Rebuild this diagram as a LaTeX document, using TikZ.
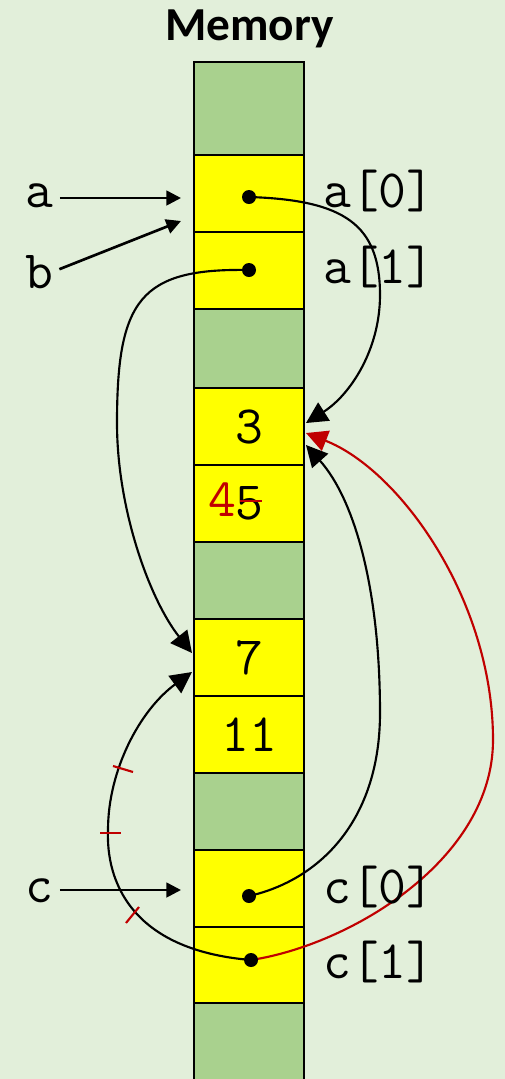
\documentclass[tikz,border=0pt]{standalone}
\usepackage{fontspec}
\usetikzlibrary{arrows.meta,calc}
\newfontfamily\titlef{Carlito}
\newcommand\monof{\ttfamily}
\definecolor{bgc}{HTML}{E2EFDA}
\definecolor{memg}{HTML}{A9D18E}
\definecolor{memy}{HTML}{FFFF00}
\definecolor{redc}{HTML}{C00000}
\pgfdeclarelayer{bglayer}
\pgfdeclarelayer{lines}
\pgfsetlayers{bglayer,lines,main}
\tikzset{
  memcell/.style={draw=black, line width=1.5pt, minimum width=82.5pt, inner sep=0pt,
    font=\monof\fontsize{40.5}{46}\selectfont},
  gcell/.style={memcell, fill=memg},
  ycell/.style={memcell, fill=memy},
  lbl/.style={inner sep=0pt, font=\monof\fontsize{40.5}{46}\selectfont},
  dotn/.style={circle, fill=black, inner sep=0pt, minimum size=10.5pt},
  conn/.style={line width=1.6pt, -{Triangle[length=16pt,width=16pt]}},
  rconn/.style={conn, draw=redc, -{Triangle[length=16pt,width=16pt,fill=redc]}},
  sarrow/.style={line width=2pt, -{Triangle[length=11pt,width=11pt]}, shorten <=5pt},
  tick/.style={draw=redc, line width=1.6pt},
}
\begin{document}
\begin{tikzpicture}[x=0.75pt,y=-0.75pt]
\useasboundingbox (0,0) rectangle (505,1079);
\begin{pgfonlayer}{bglayer}
\clip (0,0) rectangle (505,1079);
\fill[bgc] (0,0) rectangle (505,1079);
\node[gcell, minimum height=93*0.75pt] (m0) at (249,108.5) {};
\node[ycell, minimum height=77*0.75pt] (m1) at (249,193.5) {};
\node[ycell, minimum height=77*0.75pt] (m2) at (249,270.5) {};
\node[gcell, minimum height=79*0.75pt] (m3) at (249,348.5) {};
\node[ycell, minimum height=77*0.75pt] (m4) at (249,426.5) {3};
\node[ycell, minimum height=77*0.75pt] (m5) at (249,503.5) {5};
\node[gcell, minimum height=77*0.75pt] (m6) at (249,580.5) {};
\node[ycell, minimum height=77*0.75pt] (m7) at (249,657.5) {7};
\node[ycell, minimum height=77*0.75pt] (m8) at (249,734.5) {11};
\node[gcell, minimum height=77*0.75pt] (m9) at (249,811.5) {};
\node[ycell, minimum height=77*0.75pt] (m10) at (249,888.5) {};
\node[ycell, minimum height=76*0.75pt] (m11) at (249,965) {};
\node[gcell, minimum height=97*0.75pt] (m12) at (249,1051.5) {};
\end{pgfonlayer}

% title
\node[anchor=base, inner sep=0pt, font=\titlef\bfseries\fontsize{35.5}{40}\selectfont] (title) at (249.5,40) {Memory};

% edited value
\node[lbl, text=redc] (four) at (222,500) {4};
\draw[tick] (240,501) -- (262,501);

% labels
\node[lbl, anchor=base] (la) at (39,207) {a};
\node[lbl, anchor=base] (lb) at (39,288) {b};
\node[lbl, anchor=base] (lc) at (39,902) {c};
\node[lbl, anchor=base west] (la0) at (323,207) {a[0]};
\node[lbl, anchor=base west] (la1) at (323,283) {a[1]};
\node[lbl, anchor=base west] (lc0) at (323,903) {c[0]};
\node[lbl, anchor=base west] (lc1) at (323,978) {c[1]};

% arrow targets
\coordinate (pa) at (181,198);
\coordinate (pb) at (181,221);
\coordinate (pc) at (181,890);
\coordinate (in3a) at (306,423);
\coordinate (in3r) at (306,433);
\coordinate (in3c) at (306,445);
\coordinate (in7a) at (192,653);
\coordinate (in7c) at (192,672);

% pointer dots
\node[dotn] (d0) at (249,197) {};
\node[dotn] (d1) at (249,270) {};
\node[dotn] (e0) at (249,896) {};
\node[dotn] (e1) at (251,960) {};

\draw[sarrow] (la.east |- pa) -- (pa);
\draw[sarrow] (lb.east) -- (pb);
\draw[sarrow] (lc.east |- pc) -- (pc);

\begin{pgfonlayer}{lines}
\draw[conn] (d0.center) .. controls (345,200) and (380,225) .. (380,295)
  .. controls (380,350) and (350,395) .. (in3a);
\draw[conn] (d1.center) .. controls (140,268) and (117,300) .. (117,423)
  .. controls (117,510) and (150,600) .. (in7a);
\draw[conn] (e0.center) .. controls (320,880) and (380,820) .. (380,713)
  .. controls (380,590) and (355,500) .. (in3c);
\draw[conn] (e1.center) .. controls (130,950) and (106,880) .. (108,830)
  .. controls (108,770) and (140,710) .. (in7c);
\draw[rconn] (e1.center) .. controls (350,945) and (493,860) .. (493,740)
  .. controls (493,600) and (400,470) .. (in3r);
\end{pgfonlayer}

% red tick marks
\draw[tick] (113,766) -- (133,772);
\draw[tick] (100,833) -- (121,833);
\draw[tick] (126,923) -- (139,907);
\end{tikzpicture}
\end{document}
